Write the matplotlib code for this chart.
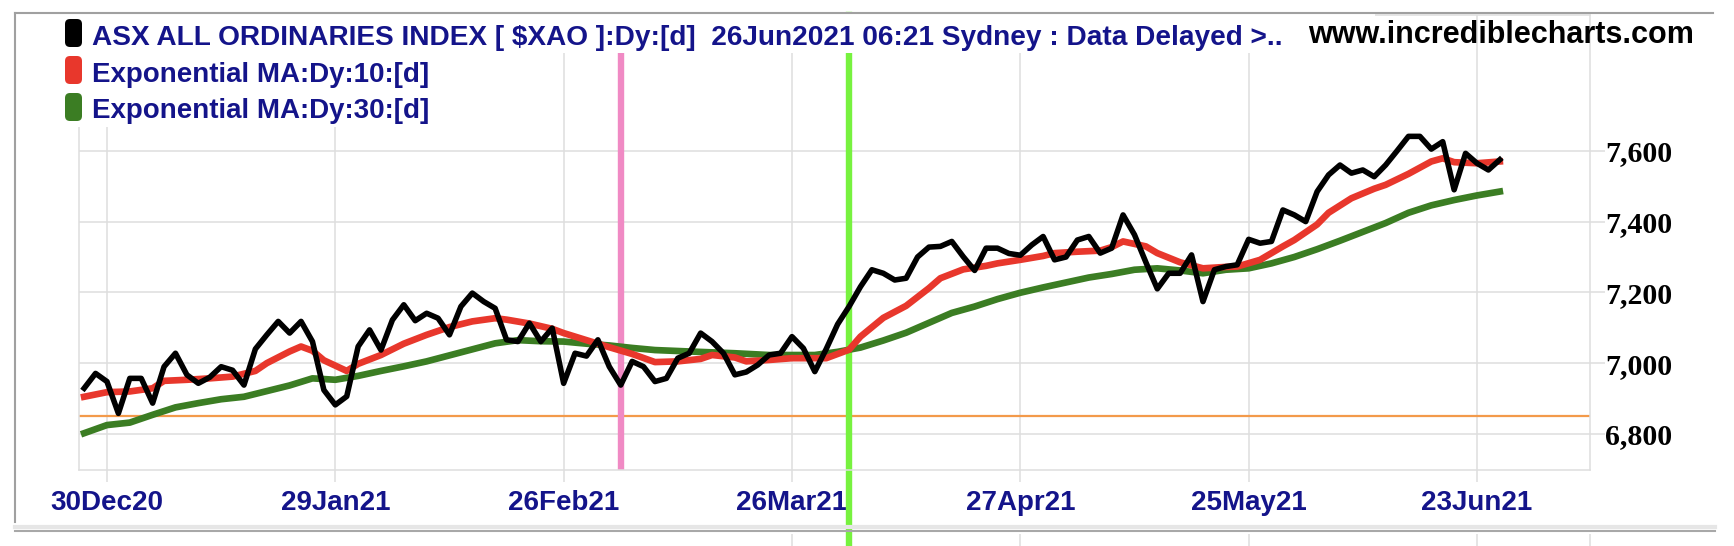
import numpy as np
import matplotlib
matplotlib.use('Agg')
import matplotlib.pyplot as plt
from matplotlib.patches import Rectangle, FancyBboxPatch
from matplotlib.lines import Line2D

# trading-day index, 0 = 30Dec20
close_start = -2
close = [6929, 6971, 6948, 6858, 6957, 6957, 6887, 6990, 7028, 6967,
         6943, 6960, 6990, 6980, 6938, 7040, 7080, 7118, 7085, 7118,
         7061, 6924, 6882, 6906, 7047, 7094, 7037, 7122, 7165, 7120,
         7141, 7127, 7080, 7160, 7198, 7174, 7155, 7066, 7061, 7113,
         7061, 7099, 6943, 7028, 7020, 7066, 6990, 6938, 7005, 6990,
         6948, 6957, 7014, 7028, 7085, 7061, 7028, 6967, 6975, 6995,
         7023, 7028, 7075, 7042, 6976, 7040, 7110, 7160, 7216, 7264,
         7254, 7235, 7240, 7300, 7328, 7330, 7344, 7301, 7262, 7325,
         7325, 7310, 7305, 7334, 7358, 7292, 7300, 7348, 7358, 7311,
         7325, 7419, 7363, 7285, 7210, 7254, 7254, 7306, 7174, 7264,
         7273, 7278, 7350, 7339, 7344, 7433, 7419, 7400, 7485, 7532,
         7560, 7537, 7546, 7527, 7560, 7600, 7641, 7641, 7605, 7626,
         7490, 7593, 7565, 7546, 7575]

ema10_idx = [-2, 0, 2, 4, 5, 7, 9, 11, 13, 14, 16, 17, 18, 19, 21, 22, 24, 26, 28, 30,
             32, 34, 35, 37, 39, 40, 42, 44, 46, 48, 50, 52, 53, 55, 56, 58, 60, 62, 63, 65,
             66, 68, 70, 72, 73, 75, 77, 78, 80, 82, 83, 85, 87, 88, 89, 91, 92, 94, 96, 98,
             99, 101, 103, 104, 106, 107, 109, 111, 112, 114, 116, 117, 118, 120, 122]
ema10 = [6905, 6918, 6920, 6929, 6950, 6953, 6957, 6962, 6978, 7000, 7033, 7047, 7035, 7008, 6978, 6998, 7023, 7055, 7080, 7102,
         7118, 7127, 7123, 7112, 7097, 7085, 7065, 7045, 7026, 7003, 7005, 7012, 7023, 7016, 7005, 7009, 7014, 7014, 7014, 7038,
         7075, 7128, 7162, 7212, 7240, 7265, 7275, 7282, 7292, 7303, 7311, 7315, 7318, 7328, 7344, 7330, 7311, 7285, 7268, 7272,
         7273, 7292, 7330, 7348, 7392, 7425, 7466, 7493, 7504, 7535, 7570, 7579, 7568, 7565, 7570]

ema30_idx = [-2, 0, 2, 4, 6, 8, 10, 12, 14, 16, 18, 20, 22, 24, 26, 28, 30, 32, 34, 36,
             38, 40, 42, 44, 46, 48, 51, 55, 58, 62, 64, 66, 68, 70, 72, 74, 76, 78, 80, 82,
             84, 86, 88, 90, 92, 94, 96, 98, 100, 102, 104, 106, 108, 110, 112, 114, 116, 118, 120, 122]
ema30 = [6802, 6825, 6832, 6854, 6875, 6887, 6898, 6905, 6921, 6937, 6957, 6953, 6964, 6978, 6991, 7005, 7022, 7039, 7056, 7065,
         7062, 7061, 7055, 7050, 7043, 7037, 7033, 7028, 7023, 7023, 7032, 7044, 7064, 7086, 7114, 7142, 7160, 7181, 7199, 7214,
         7228, 7242, 7252, 7264, 7268, 7262, 7254, 7264, 7268, 7282, 7300, 7322, 7346, 7371, 7396, 7425, 7446, 7461, 7474, 7485]

tick_idx = [0, 20, 40, 60, 80, 100, 120]
tick_labels = ['30Dec20', '29Jan21', '26Feb21', '26Mar21', '27Apr21', '25May21', '23Jun21']
y_ticks = [6800, 7000, 7200, 7400, 7600]
pink_day = 45
green_day = 65
support = 6850

title = 'ASX ALL ORDINARIES INDEX [ $XAO ]:Dy:[d]  26Jun2021 06:21 Sydney : Data Delayed >..'
legend_rows = [('Exponential MA:Dy:10:[d]', '#e8372c'), ('Exponential MA:Dy:30:[d]', '#3b7d23')]

W, H = 1734, 546
navy = '#14148a'
grid_c = '#dedede'

fig = plt.figure(figsize=(W / 100, H / 100), dpi=100)
ax = fig.add_axes([79 / W, 1 - 470 / H, (1590 - 79) / W, (470 - 15) / H])


def px(x, y):
    # pixel position (from top-left) -> inches for dpi_scale_trans
    return x / 100, (H - y) / 100


days = np.arange(close_start, close_start + len(close))
ax.plot(ema30_idx, ema30, color='#3b7d23', lw=4.8, zorder=3)
ax.plot(ema10_idx, ema10, color='#e8372c', lw=4.8, zorder=4)
ax.plot(days, close, color='black', lw=4.0, zorder=5)

ax.axhline(support, color='#f39a4a', lw=1.6, zorder=2)
ax.axvline(pink_day, color='#f08ac4', lw=4.6, zorder=2)
ax.axvline(green_day, ymin=-0.17, ymax=1, color='#77f23f', lw=4.6, zorder=2, clip_on=False)

ax.set_xlim(-2.45, 129.9)
ax.set_ylim(6698, 7984)
ax.set_xticks(tick_idx)
ax.set_xticklabels(tick_labels, fontfamily='Liberation Sans', fontweight='bold', fontsize=20, color=navy)
ax.yaxis.tick_right()
ax.set_yticks(y_ticks)
ax.set_yticklabels([f'{v:,}' for v in y_ticks], fontfamily='Liberation Serif', fontweight='bold', fontsize=21.5)
ax.tick_params(axis='x', length=8.6, width=1.1, color=grid_c, pad=5.5)
ax.tick_params(axis='y', length=10.8, width=1.1, color=grid_c, pad=0)
ax.grid(True, color=grid_c, lw=1.1)
ax.set_axisbelow(True)
for s in ax.spines.values():
    s.set_color(grid_c)
    s.set_linewidth(1.1)

# grid stubs showing below the frame
ax.vlines(tick_idx[3:] + [129.9], -0.19, -0.14, transform=ax.get_xaxis_transform(),
          color=grid_c, lw=1.1, clip_on=False)

# white boxes behind the legend text
for x0, y0, x1, y1 in [(60, 14, 1375, 53), (60, 53, 440, 127)]:
    fig.add_artist(Rectangle(px(x0, y1), (x1 - x0) / 100, (y1 - y0) / 100, fc='white', ec='none',
                             transform=fig.dpi_scale_trans, zorder=1))

# legend swatches and text
swatches = [('black', 19), (legend_rows[0][1], 56), (legend_rows[1][1], 93)]
for c, top in swatches:
    fig.add_artist(FancyBboxPatch(px(65, top + 28), 0.17, 0.28, boxstyle='round,pad=0,rounding_size=0.05',
                                  fc=c, ec='none', transform=fig.dpi_scale_trans, zorder=2))

fig.text(*px(92, 45), title, transform=fig.dpi_scale_trans, ha='left', va='baseline',
         fontsize=20.2, fontweight='bold', color=navy, family='Liberation Sans')
for (txt, c), base in zip(legend_rows, [82, 118]):
    fig.text(*px(92, base), txt, transform=fig.dpi_scale_trans, ha='left', va='baseline',
             fontsize=20, fontweight='bold', color=navy, family='Liberation Sans')
fig.text(*px(1308, 43), 'www.incrediblecharts.com', transform=fig.dpi_scale_trans, ha='left',
         va='baseline', fontsize=22, fontweight='bold', color='black', family='Liberation Sans')

# outer frame
fig.add_artist(Line2D([15 / W, 1713 / W], [1 - 12.5 / H] * 2, color='#a0a0a0', lw=1.5))
fig.add_artist(Line2D([15 / W] * 2, [1 - 12.5 / H, 1 - 522 / H], color='#a0a0a0', lw=1.5))
fig.add_artist(Line2D([15 / W, 1715 / W], [1 - 527 / H] * 2, color='#e6e6e6', lw=3))
fig.add_artist(Line2D([15 / W, 1715 / W], [1 - 530.5 / H] * 2, color='#a8a8a8', lw=1.5))

fig.savefig('out.png', dpi=100)
